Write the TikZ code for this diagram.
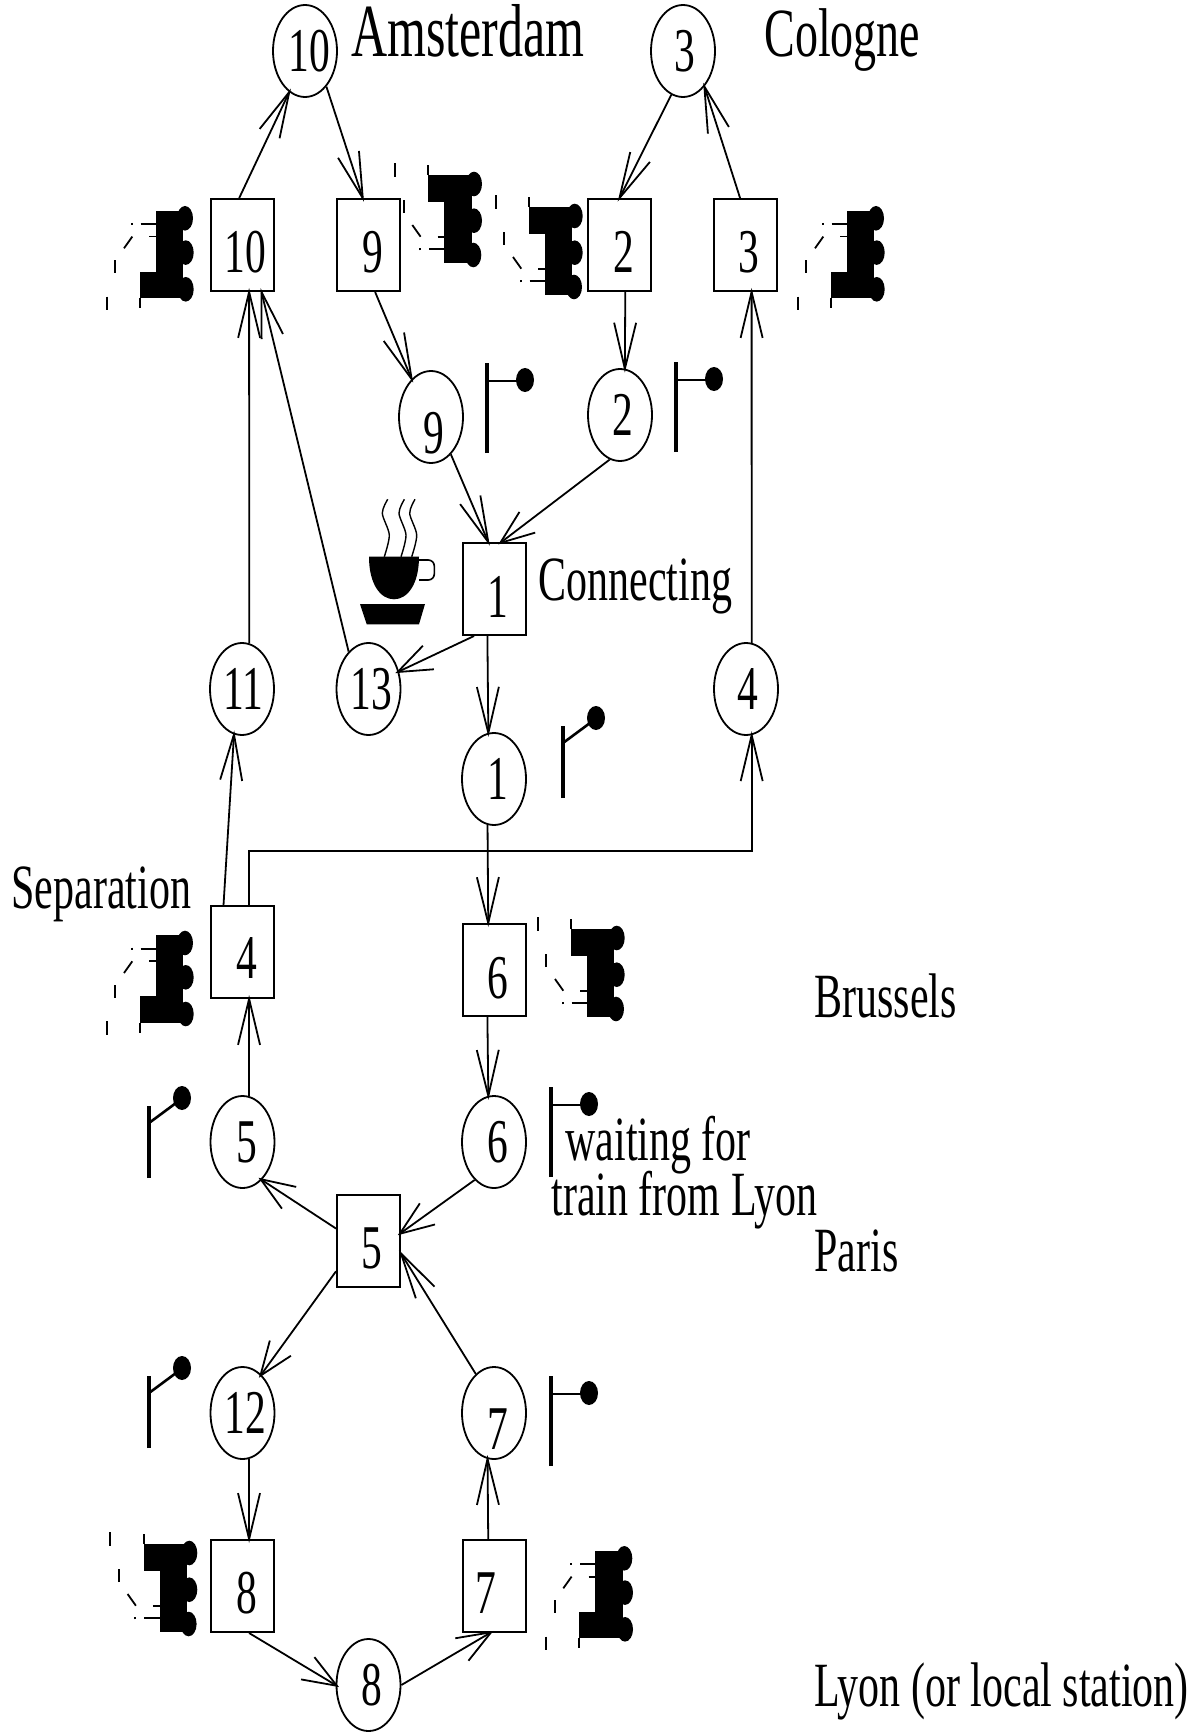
\documentclass[tikz,border=0pt]{standalone}
\usepackage{graphicx}
\usepackage{fontspec}
\setmainfont{Liberation Serif}
\usetikzlibrary{shapes.geometric, arrows.meta}
\newcommand{\tallbox}[1]{\scalebox{1}[1.5]{#1}}

\begin{document}
\begin{tikzpicture}[
  x=0.5pt, y=-0.5pt,
  digit/.style={font=\fontsize{20.75}{24}\selectfont, inner sep=0pt},
  dig/.style n args={3}{label={[digit,xshift=#1*0.5pt,yshift=-#2*0.5pt]center:\tallbox{#3}}},
  stn/.style={draw, line width=0.9pt, ellipse, inner sep=0pt,
              minimum width=32pt, minimum height=46pt},
  trn/.style={draw, line width=1pt, rectangle, inner sep=0pt,
              minimum width=31.5pt, minimum height=46pt},
  place/.style={font=\fontsize{21}{24}\selectfont, inner sep=0pt, anchor=base west},
  arr/.style={-{Straight Barb[length=23pt,width=11pt]}, line width=0.9pt, shorten >=-2pt},
  arrflat/.style={-{Straight Barb[length=17pt,width=13pt]}, line width=0.9pt, shorten >=-2pt},
  train/.pic={
    \fill (16,-87.7) rectangle (43.3,-20);
    \fill (0,-26.7) rectangle (43.3,0);
    \fill (45,-80) ellipse (8 and 12.3);
    \fill (45.7,-45.7) ellipse (8 and 12.3);
    \fill (45.7,-9) ellipse (8 and 12.3);
    \draw[line width=0.9pt] (0,0) -- (0,10);
    \draw[line width=0.9pt] (-33.3,-1.7) -- (-33.3,11.7);
    \draw[line width=0.9pt] (-24.7,-38) -- (-24.7,-25);
    \draw[line width=0.9pt] (-16,-50) -- (-7.7,-61.7);
    \draw[line width=1.1pt] (-8.3,-75.3) -- (-8.3,-73.3);
    \draw[line width=0.9pt] (0.7,-74.3) -- (16,-74.3);
    \draw[line width=0.9pt] (9.3,-61.7) -- (16,-61.7);
  },
  sigstop/.pic={
    \draw[line width=1.8pt] (0,0) -- (0,-90);
    \draw[line width=1.3pt] (0,-72) -- (34,-72);
    \fill (38,-73) ellipse (9 and 12);
  },
  siggo/.pic={
    \draw[line width=1.8pt] (0,0) -- (0,-72);
    \draw[line width=1.3pt] (0,-55) -- (27,-75);
    \fill (33,-80) ellipse (9 and 12);
  },
]
\useasboundingbox (0,0) rectangle (1199,1733);

% stations
\node[stn, dig={4}{0}{10}] (c10) at (305,51) {};
\node[stn, dig={2}{0}{3}]  (c3)  at (683,51) {};
\node[stn, dig={3}{16}{9}] (c9)  at (431,417) {};
\node[stn, dig={3}{0}{2}]  (c2)  at (620,415) {};
\node[stn, dig={1}{0}{11}] (c11) at (242,689) {};
\node[stn, dig={3}{0}{13}] (c13) at (368.5,689) {};
\node[stn, dig={2}{0}{4}]  (c4)  at (746,689) {};
\node[stn, dig={4}{0}{1}]  (c1)  at (494,779) {};
\node[stn, dig={4}{0}{5}]  (c5)  at (242.5,1142) {};
\node[stn, dig={4}{0}{6}]  (c6)  at (494,1142) {};
\node[stn, dig={3}{0}{12}] (c12) at (242.5,1413) {};
\node[stn, dig={4}{16}{7}] (c7)  at (494,1413) {};
\node[stn, dig={3}{0}{8}]  (c8)  at (368.5,1685) {};

% trains
\node[trn, dig={3}{7}{10}] (b10) at (242.5,245) {};
\node[trn, dig={4}{7}{9}]  (b9)  at (368.5,245) {};
\node[trn, dig={4}{7}{2}]  (b2)  at (619.5,245) {};
\node[trn, dig={4}{7}{3}]  (b3)  at (745,245) {};
\node[trn, dig={4}{8}{1}]  (b1)  at (494,589) {};
\node[trn, dig={4}{6}{4}]  (b4)  at (242.5,952) {};
\node[trn, dig={4}{8}{6}]  (b6)  at (494,970) {};
\node[trn, dig={3}{7}{5}]  (b5)  at (368.5,1241) {};
\node[trn, dig={4}{7}{8}]  (b8)  at (242.5,1586) {};
\node[trn, dig={-8}{7}{7}] (b7)  at (494,1586) {};

% place names
\node[place, font=\fontsize{25}{28}\selectfont] (amsterdam) at (351,57) {\tallbox{Amsterdam}};
\node[place, font=\fontsize{23}{26}\selectfont] (cologne) at (764,57) {\tallbox{Cologne}};
\node[place] (connecting) at (538,600) {\tallbox{Connecting}};
\node[place] (separation) at (11,908) {\tallbox{Separation}};
\node[place] (brussels) at (814,1017) {\tallbox{Brussels}};
\node[place] (waiting) at (565,1160) {\tallbox{waiting for}};
\node[place] (fromlyon) at (551,1215) {\tallbox{train from Lyon}};
\node[place] (paris) at (814,1271) {\tallbox{Paris}};
\node[place] (lyon) at (814,1706) {\tallbox{Lyon (or local station)}};

% connectors
\draw[arr] (b10.94) -- (c10.249);
\draw[arr] (c10.301) -- (b9.97);
\draw[arr] (c3.255) -- (b2.north);
\draw[arr] (b3.96) -- (c3.301);
\draw[arr] (b9.278) -- (c9.117);
\draw[arr] (b2.277) -- (c2.84);
\draw[arr] (c9.298) -- (b1.97);
\draw[arrflat] (c2.257) -- (b1.81);
\draw[arrflat] (b1.247.6) -- (c13.30.5);
\draw[arr] (b1.262.5) -- (c1.97.4);
\draw[arr] (c13.118) -- (b10.292);
\draw[arr] (c11.81) -- (b10.278);
\draw[arr] (b4.112) -- (c11.260);
\draw[arr] (b4.north) ++(6.5,0) -- ++(0,-54) -| (c4.277);
\draw[arr] (c1.262) -- (b6.97);
\draw[arr] (c4.83) -- (b3.278);
\draw[arr] (b6.262.5) -- (c6.97);
\draw[arr] (c5.82) -- (b4.278);
\draw[arrflat] (b5.159) -- (c5.297);
\draw[arrflat] (c6.243) -- (b5.14);
\draw[arrflat] (b5.223.6) -- (c12.64.5);
\draw[arr] (c7.115) -- (b5.339);
\draw[arr] (c12.278) -- (b8.82);
\draw[arr] (b7.97) -- (c7.262);
\draw[arrflat] (b8.278) -- (c8.west);
\draw[arrflat] (c8.east) -- (b7.265);

% engines
\pic at (140,298.3) {train};
\pic[yscale=-1] at (428.3,175) {train};
\pic[yscale=-1] at (529,207) {train};
\pic at (831,298.3) {train};
\pic at (140,1023) {train};
\pic[yscale=-1] at (571,929) {train};
\pic[yscale=-1] at (143.6,1544) {train};
\pic at (579.3,1638.3) {train};

% signals
\pic at (487,453) {sigstop};
\pic at (676,452) {sigstop};
\pic at (551,1177) {sigstop};
\pic at (551,1466) {sigstop};
\pic at (563,798) {siggo};
\pic at (149,1178) {siggo};
\pic at (149,1448) {siggo};

% coffee
\fill (369,556.7) -- (419,556.7) .. controls (419,585) and (407,599.3) .. (394,599.3)
  .. controls (381,599.3) and (369,585) .. cycle;
\draw[line width=0.8pt, rounded corners=3pt] (419,560) -- (434.3,560) -- (434.3,580) -- (419,580);
\fill (360,604) -- (425,604) -- (419,624.3) -- (366.7,624.3) -- cycle;
\draw[line width=0.7pt] plot[smooth] coordinates {(384.3,556.7) (389.3,535) (382.3,513.3) (387.7,499.3)};
\draw[line width=0.7pt] plot[smooth] coordinates {(401,556.7) (406,535) (399,513.3) (404.4,499.3)};
\draw[line width=0.7pt] plot[smooth] coordinates {(411.7,556.7) (416.7,535) (409.7,513.3) (415,499.3)};
\end{tikzpicture}
\end{document}
